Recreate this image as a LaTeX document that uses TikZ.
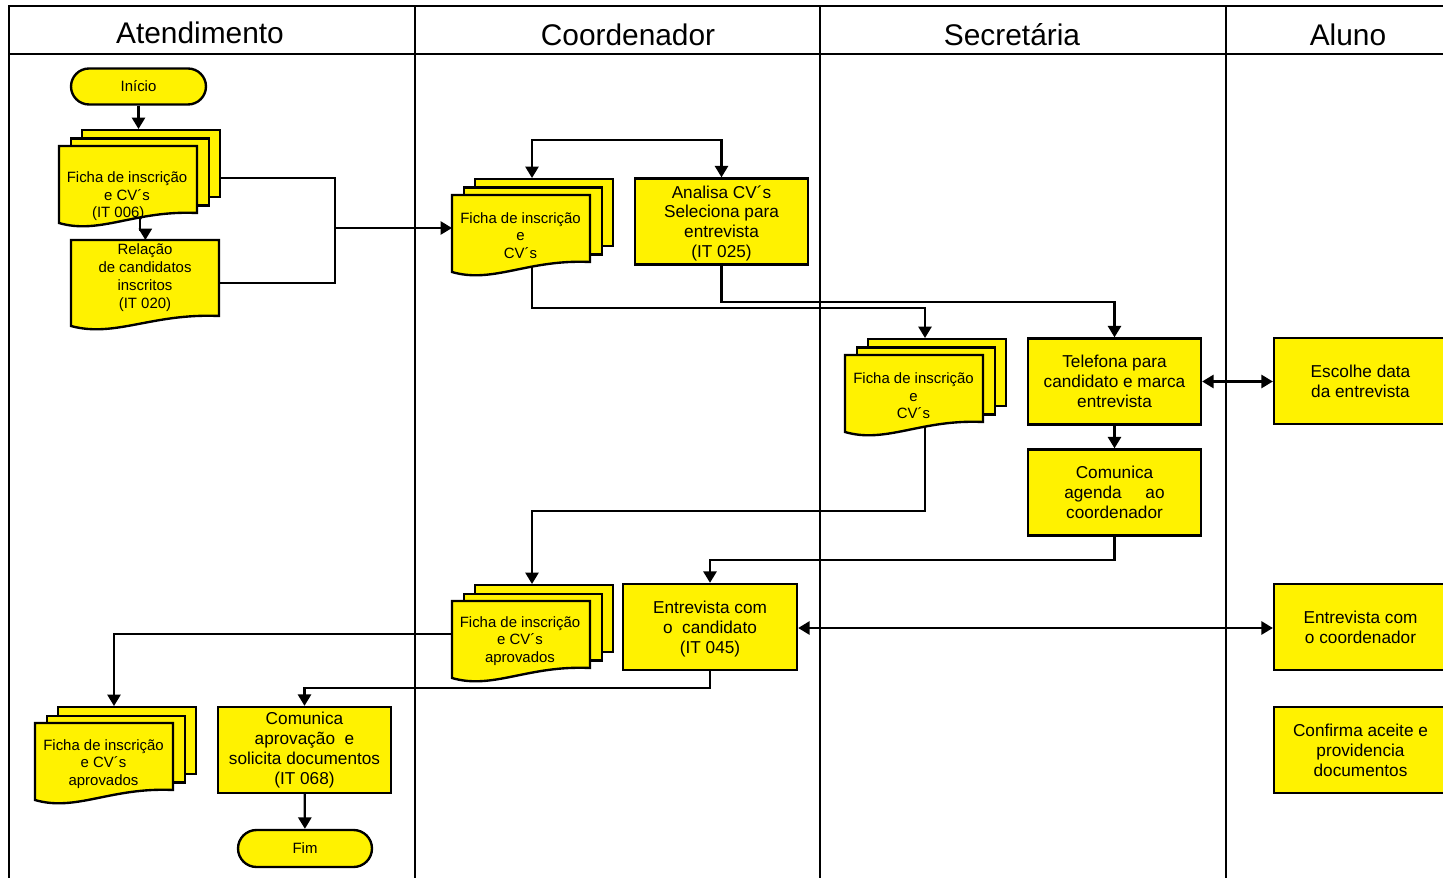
\documentclass[tikz,border=0pt]{standalone}
\usepackage{fontspec}
\setmainfont{Liberation Sans}
\usetikzlibrary{arrows.meta,shapes.misc}
\pgfdeclarelayer{lanes}
\pgfdeclarelayer{links}
\pgfsetlayers{lanes,links,main}

\tikzset{
  lane/.style={line width=1.3pt},
  plain/.style={line width=1.25pt},
  flow/.style={line width=1.25pt, -{Triangle[length=6.5pt,width=7.5pt]}},
  biflow/.style={line width=1.25pt,
    {Triangle[length=6.5pt,width=7.5pt]}-{Triangle[length=6.5pt,width=7.5pt]}},
  lanetitle/.style={font=\fontsize{17}{20}\selectfont, inner sep=0pt},
  proc/.style={draw, fill=yellow, line width=1.35pt, minimum width=3.46cm,
    minimum height=1.72cm, inner sep=0pt, align=center,
    font=\fontsize{9.8}{11.3}\selectfont},
  term/.style={rounded rectangle, draw, fill=yellow, line width=1.35pt,
    minimum width=2.7cm, minimum height=0.72cm, inner sep=0pt,
    font=\fontsize{8.5}{10}\selectfont},
  sheet/.style={draw, fill=yellow, line width=1.35pt, minimum width=2.76cm,
    minimum height=1.34cm, inner sep=0pt, anchor=north west},
  sheetarea/.style={minimum width=2.76cm, minimum height=1.34cm,
    inner sep=0pt, anchor=north west},
  docface/.style={fill=yellow, draw, line width=1.35pt},
  doctext/.style={align=center, font=\fontsize{8.5}{10}\selectfont, inner sep=0pt},
}

% stacked documents: name, top-left x, top-left y of the front sheet,
% text centre x and y (relative to the front sheet), text
\newcommand{\multidoc}[6]{%
  \begin{scope}[shift={(#2,#3)}]
    \node[sheet] (#1-back) at (22,-17) {};
    \node[sheet] (#1-mid) at (11,-8.5) {};
    \node[sheetarea] (#1-front) at (0,0) {};
    \filldraw[docface] (0,0) -- (138,0) -- (138,67)
      .. controls (76,64) and (41,89) .. (0,77) -- cycle;
    \node[doctext] (#1) at (#4,#5) {#6};
  \end{scope}}

\begin{document}
\begin{tikzpicture}[x=0.02cm, y=-0.02cm]
\useasboundingbox (0,0) rectangle (1443,878);

% swimlanes
\begin{pgfonlayer}{lanes}
  \draw[lane] (9,878) -- (9,6) -- (1443,6);
  \draw[lane] (9,54) -- (1443,54);
  \draw[lane] (415,6) -- (415,878);
  \draw[lane] (820,6) -- (820,878);
  \draw[lane] (1226,6) -- (1226,878);
\end{pgfonlayer}
\node[lanetitle] (h1) at (200,33) {Atendimento};
\node[lanetitle] (h2) at (628,35) {Coordenador};
\node[lanetitle] (h3) at (1012,35) {Secretária};
\node[lanetitle] (h4) at (1348,35) {Aluno};

% Atendimento
\node[term] (start) at (138.5,86.5) {Início};
\multidoc{d1}{59}{146}{68}{50.5}{Ficha de inscrição\\e CV´s\\(IT 006)\hspace*{10pt}}
\node[sheetarea, minimum width=2.96cm, minimum height=1.52cm] (rel) at (71,240) {};
\filldraw[docface] (71,240) -- (219,240) -- (219,316)
  .. controls (152,313) and (115,338) .. (71,326) -- cycle;
\node[doctext, font=\fontsize{8.5}{10.2}\selectfont] (rel-text) at (145,277.5)
  {Relação\\de candidatos\\inscritos\\(IT 020)};
\multidoc{d5}{35}{723}{68.5}{41}{Ficha de inscrição\\e CV´s\\aprovados}
\node[proc] (cap) at (304.5,750) {Comunica\\aprovação\ \ e\\solicita documentos\\(IT 068)};
\node[term, minimum width=2.68cm, minimum height=0.74cm] (fim) at (305,848.5) {Fim};

% Coordenador
\multidoc{d2}{452}{195}{68.5}{40.5}{Ficha de inscrição\\e\\CV´s}
\node[proc] (ana) at (721.5,221.5) {Analisa CV´s\\Seleciona para\\entrevista\\\smash{(IT 025)}};
\multidoc{d4}{452}{601}{68}{40}{Ficha de inscrição\\e CV´s\\aprovados}
\node[proc, minimum width=3.48cm] (ent) at (710,627) {Entrevista com\\o\ \ candidato\\\smash{(IT 045)}};

% Secretaria
\multidoc{d3}{845}{355}{68.5}{41}{Ficha de inscrição\\e\\CV´s}
\node[proc] (tel) at (1114.5,381.5) {Telefona para\\candidato e marca\\entrevista};
\node[proc] (cag) at (1114.5,492.5) {Comunica\\agenda\hspace{1.1em} ao\\coordenador};

% Aluno
\node[proc] (esc) at (1360.5,381) {Escolhe data\\da entrevista};
\node[proc] (entc) at (1360.5,627) {Entrevista com\\o coordenador};
\node[proc] (conf) at (1360.5,750) {Confirma aceite e\\providencia\\documentos};

% connectors
\coordinate (j1) at (335,228);
\coordinate (d1-out) at (140,214);
\begin{pgfonlayer}{links}
  \draw[flow] (start.south) -- (start.south |- d1-back.north);
  \draw[flow] (d1-out) -- (140,230) -| (rel.north);
  \draw[plain] (d1-back.east |- 0,178) -| (j1);
  \draw[plain] (rel.east |- 0,283) -| (j1);
  \draw[flow] (j1) -- (d2-front.west |- j1);
  \draw[biflow] (d2-back.north -| 532,0) -- (532,140) -| (ana.north);
  \draw[flow] (d2-front.south -| 532,0) -- (532,308) -| (d3-back.north -| 925,0);
  \draw[flow] (ana.south) -- (ana.south |- 0,302) -| (tel.north);
  \draw[flow] (tel) -- (cag);
  \draw[biflow] (tel.east) -- (tel.east -| esc.west);
  \draw[flow] (d3-front.south -| 925,0) -- (925,511) -| (d4-back.north -| 532,0);
  \draw[flow] (cag.south) -- (cag.south |- 0,560) -| (ent.north);
  \draw[biflow] (ent.east |- 0,628) -- (entc.west |- 0,628);
  \draw[flow] (d4-front.west |- 0,634) -| (d5-back.north -| 114,0);
  \draw[flow] (ent.south) -- (ent.south |- 0,688) -| (cap.north);
  \draw[flow] (cap) -- (fim);
\end{pgfonlayer}
\end{tikzpicture}
\end{document}
